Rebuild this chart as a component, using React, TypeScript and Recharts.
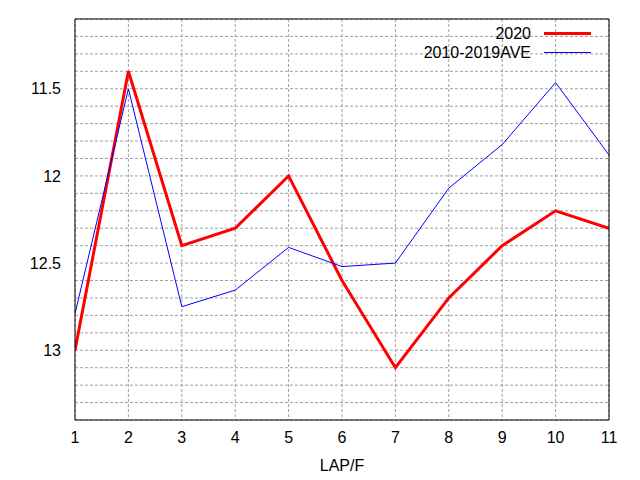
import React from 'react';
import { LineChart, Line, XAxis, YAxis, CartesianGrid, Legend } from 'recharts';

const laps = [1, 2, 3, 4, 5, 6, 7, 8, 9, 10, 11];
const series2020 = [13.0, 11.4, 12.4, 12.3, 12.0, 12.6, 13.1, 12.7, 12.4, 12.2, 12.3];
const seriesAve = [12.79, 11.5, 12.75, 12.655, 12.41, 12.52, 12.5, 12.07, 11.82, 11.465, 11.88];
const xTicks = [1, 2, 3, 4, 5, 6, 7, 8, 9, 10, 11];
const yTicks = [11.2, 11.3, 11.4, 11.5, 11.6, 11.7, 11.8, 11.9, 12.0, 12.1, 12.2, 12.3, 12.4, 12.5, 12.6, 12.7, 12.8, 12.9, 13.0, 13.1, 13.2, 13.3];
const yLabels = [11.5, 12, 12.5, 13];
const yDomain = [11.1, 13.4];
const xDomain = [1, 11];
const name2020 = '2020';
const nameAve = '2010-2019AVE';
const xTitle = 'LAP/F';

const data = laps.map((lap, i) => ({ lap, a: series2020[i], b: seriesAve[i] }));

const FONT = '"Liberation Sans", Arial, sans-serif';
const FS = 16;
const RED = '#ff0000';
const BLUE = '#0000ff';

const legendItems = [
  { name: name2020, color: RED, width: 3 },
  { name: nameAve, color: BLUE, width: 1 },
];

const fmtY = (v: number) => {
  const hit = yLabels.find((l) => Math.abs(l - v) < 1e-6);
  return hit === undefined ? '' : String(hit);
};

const LegendContent = () => (
  <div style={{ fontFamily: FONT, fontSize: FS, color: '#000' }}>
    {legendItems.map((p) => (
      <div key={p.name} style={{ display: 'flex', alignItems: 'center', height: 19, lineHeight: '19px' }}>
        <div style={{ width: 531, textAlign: 'right', whiteSpace: 'nowrap' }}>{p.name}</div>
        <div style={{ marginLeft: 13, width: 47, height: p.width, background: p.color }} />
      </div>
    ))}
  </div>
);

export default function App() {
  return (
    <div style={{ position: 'absolute', left: 0, top: 0, background: '#fff' }}>
      <LineChart
        width={640}
        height={480}
        data={data}
        margin={{ top: 19, right: 31, left: 0, bottom: 0 }}
        style={{ fontFamily: FONT }}
      >
        <CartesianGrid
          xAxisId="x"
          yAxisId="y"
          stroke="#a0a0a0"
          strokeDasharray="3 2"
          strokeWidth={1}
        />
        <XAxis
          xAxisId="x"
          dataKey="lap"
          type="number"
          domain={xDomain}
          ticks={xTicks}
          allowDataOverflow
          height={60}
          tickLine={false}
          tickSize={0}
          tickMargin={12}
          axisLine={{ stroke: '#000', strokeWidth: 1 }}
          tick={{ fill: '#000', fontSize: FS, fontFamily: FONT }}
          label={{ value: xTitle, position: 'insideBottom', offset: 9, fill: '#000', fontSize: FS, fontFamily: FONT }}
        />
        <XAxis
          xAxisId="xb"
          dataKey="lap"
          type="number"
          domain={xDomain}
          ticks={xTicks}
          allowDataOverflow
          mirror
          orientation="bottom"
          tick={false}
          tickSize={5}
          tickLine={{ stroke: '#000' }}
          axisLine={false}
        />
        <XAxis
          xAxisId="xt"
          dataKey="lap"
          type="number"
          domain={xDomain}
          ticks={xTicks}
          allowDataOverflow
          mirror
          orientation="top"
          tick={false}
          tickSize={5}
          tickLine={{ stroke: '#000' }}
          axisLine={{ stroke: '#000', strokeWidth: 1 }}
        />
        <YAxis
          yAxisId="y"
          type="number"
          domain={yDomain}
          ticks={yTicks}
          reversed
          allowDataOverflow
          interval={0}
          width={75}
          tickLine={false}
          tickSize={0}
          tickMargin={14}
          tickFormatter={fmtY}
          axisLine={{ stroke: '#000', strokeWidth: 1 }}
          tick={{ fill: '#000', fontSize: FS, fontFamily: FONT }}
        />
        <YAxis
          yAxisId="yl"
          type="number"
          domain={yDomain}
          ticks={yTicks}
          reversed
          allowDataOverflow
          interval={0}
          mirror
          orientation="left"
          tick={false}
          tickSize={5}
          tickLine={{ stroke: '#000' }}
          axisLine={false}
        />
        <YAxis
          yAxisId="yr"
          type="number"
          domain={yDomain}
          ticks={yTicks}
          reversed
          allowDataOverflow
          interval={0}
          mirror
          orientation="right"
          tick={false}
          tickSize={5}
          tickLine={{ stroke: '#000' }}
          axisLine={{ stroke: '#000', strokeWidth: 1 }}
        />
        <Legend
          layout="horizontal"
          verticalAlign="middle"
          align="center"
          wrapperStyle={{ top: 24, left: 0, width: 640, height: 40 }}
          content={<LegendContent />}
        />
        <Line
          xAxisId="x"
          yAxisId="y"
          type="linear"
          dataKey="a"
          name={name2020}
          stroke={RED}
          strokeWidth={3}
          dot={false}
          activeDot={false}
          isAnimationActive={false}
        />
        <Line
          xAxisId="x"
          yAxisId="y"
          type="linear"
          dataKey="b"
          name={nameAve}
          stroke={BLUE}
          strokeWidth={1}
          dot={false}
          activeDot={false}
          isAnimationActive={false}
        />
      </LineChart>
    </div>
  );
}
